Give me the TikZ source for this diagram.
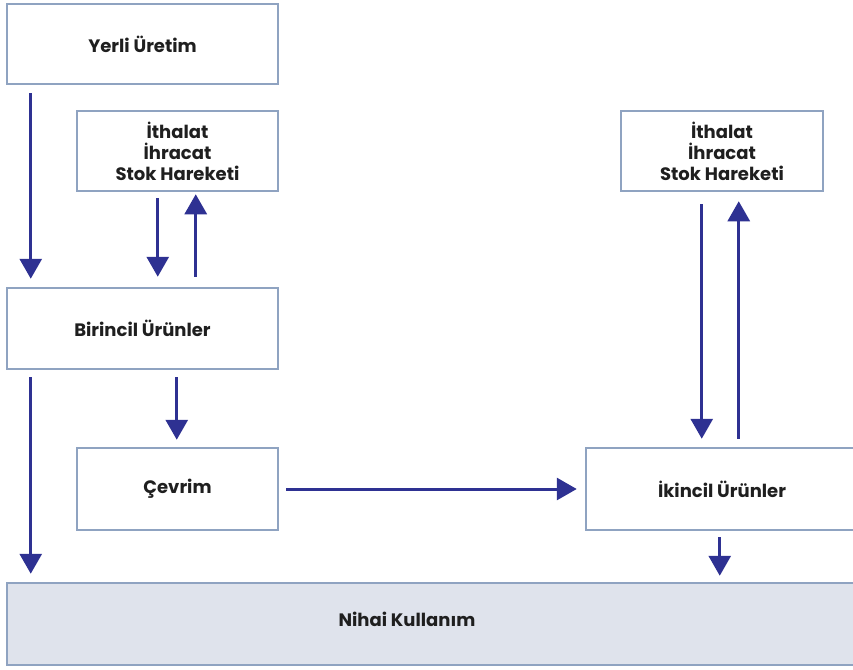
\documentclass[tikz,border=0pt]{standalone}
\usepackage{fontspec}
\setmainfont{Poppins}
\usetikzlibrary{arrows.meta}
\definecolor{flowblue}{HTML}{2E3192}
\definecolor{boxedge}{HTML}{8FA3C1}
\definecolor{boxfill}{HTML}{DFE3EC}
\tikzset{
  box/.style={draw=boxedge, line width=2.5pt, fill=white, rectangle, inner sep=0pt,
    align=center, font=\fontsize{18}{21}\selectfont\bfseries, text=black!88},
  flow/.style={draw=flowblue, line width=3pt, -{Triangle[width=22pt,length=20pt]}},
  lbl/.style={font=\fontsize{18}{21}\selectfont\bfseries, text=black!88, inner sep=0pt}
}
\begin{document}
\begin{tikzpicture}[x=1pt,y=-1pt]
\useasboundingbox (0,0) rectangle (853,669);
% boxes
\node[box, minimum width=271pt, minimum height=80pt] (yerli) at (142.5,44) {Yerli Üretim};
\node[box, minimum width=201pt, minimum height=80pt] (ith1) at (177.5,151) {İthalat\\İhracat\\Stok Hareketi};
\node[box, minimum width=202pt, minimum height=80pt] (ith2) at (722,151) {İthalat\\İhracat\\Stok Hareketi};
\node[box, minimum width=271pt, minimum height=81pt] (birincil) at (142.5,328.5) {Birincil Ürünler};
\node[box, minimum width=201pt, minimum height=82pt] (cevrim) at (177.5,489) {Çevrim};
\node[box, minimum width=272pt, minimum height=82pt] (ikincil) at (722,489) {İkincil Ürünler};
\node[box, fill=boxfill, minimum width=853pt, minimum height=82pt] (nihai) at (433.5,624) {};
\node[lbl] (nihaitext) at (407,619) {Nihai Kullanım};
% flows
\draw[flow] ([xshift=25pt,yshift=-8pt]yerli.south west) -- ([xshift=25pt,yshift=8pt]birincil.north west);
\draw[flow] ([xshift=25pt,yshift=-7pt]birincil.south west) -- ([xshift=25pt,yshift=8pt]nihai.north west);
\draw[flow] ([xshift=82pt,yshift=-6pt]ith1.south west) -- ([xshift=152pt,yshift=10pt]birincil.north west);
\draw[flow] ([xshift=190pt,yshift=10pt]birincil.north west) -- ([xshift=120pt,yshift=-2pt]ith1.south west);
\draw[flow] ([xshift=171pt,yshift=-7pt]birincil.south west) -- ([xshift=101pt,yshift=7pt]cevrim.north west);
\draw[flow] ([xshift=7pt]cevrim.east) -- ([xshift=-8pt]ikincil.west);
\draw[flow] ([xshift=82pt,yshift=-12pt]ith2.south west) -- ([xshift=117pt,yshift=8pt]ikincil.north west);
\draw[flow] ([xshift=154pt,yshift=8pt]ikincil.north west) -- ([xshift=119pt,yshift=-9pt]ith2.south west);
\draw[flow] ([xshift=135pt,yshift=-6pt]ikincil.south west) -- ([xshift=714pt,yshift=6pt]nihai.north west);
\end{tikzpicture}
\end{document}
